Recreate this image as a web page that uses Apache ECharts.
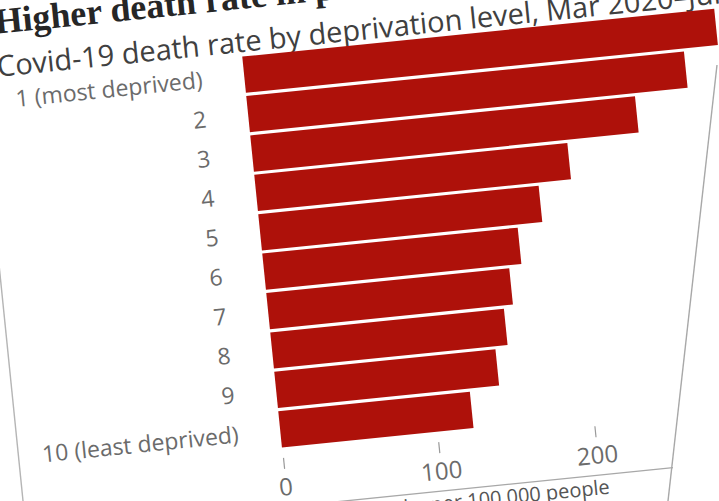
<!DOCTYPE html>
<html>
<head>
<meta charset="utf-8">
<script src="https://cdn.jsdelivr.net/npm/echarts@6/dist/echarts.min.js"></script>
<style>
  html, body { margin: 0; padding: 0; width: 719px; height: 501px; overflow: hidden; background: #ffffff; }
  #stage { position: absolute; left: 9px; top: -52px; width: 800px; height: 620px;
           transform-origin: 273px 500px; transform: rotate(-5.8deg); }
  #chart { width: 800px; height: 620px; }
  #edge { position: absolute; left: 0; top: 0; width: 719px; height: 501px; pointer-events: none; }
</style>
</head>
<body>
<div id="stage"><div id="chart"></div></div>
<svg id="edge" width="719" height="501"><line x1="717" y1="65" x2="668" y2="501" stroke="#a8a8a8" stroke-width="1.4"/></svg>
<script>
const titleText = 'Higher death rate in poorer areas';
const subtitleText = 'Covid-19 death rate by deprivation level, Mar 2020–Jul 2020';
const categories = ['1 (most deprived)', '2', '3', '4', '5', '6', '7', '8', '9', '10 (least deprived)'];
const deathRates = [303, 281, 247, 201, 180, 164, 156, 150, 142, 123];
const tickValues = [0, 100, 200];
const axisNote = 'Deaths per 100,000 people';

const chart = echarts.init(document.getElementById('chart'), null, { renderer: 'svg' });
const labelFont = '"Open Sans", "Noto Sans", sans-serif';
chart.setOption({
  animation: false,
  grid: { left: 273, top: 105, width: 501, height: 396, containLabel: false },
  xAxis: {
    type: 'value', min: 0, max: 320, interval: 100, offset: 9,
    axisLine: { show: false },
    splitLine: { show: false },
    axisTick: { show: true, length: 11, customValues: tickValues, lineStyle: { color: '#9a9a9a', width: 1.2 } },
    axisLabel: { customValues: tickValues, margin: 16, fontSize: 24, color: '#6b6b6b', fontFamily: labelFont }
  },
  yAxis: {
    type: 'category', data: categories, inverse: true,
    axisLine: { show: false }, axisTick: { show: false }, splitLine: { show: false },
    axisLabel: { margin: 42, fontSize: 23, color: '#6b6b6b', fontFamily: labelFont, padding: [5, 0, 0, 0] }
  },
  series: [{
    type: 'bar', data: deathRates, barCategoryGap: '8%', silent: true,
    itemStyle: { color: '#ae110a' }
  }],
  graphic: [
    { type: 'line', shape: { x1: 10, y1: 0, x2: 10, y2: 620 }, style: { stroke: '#b5b5b5', lineWidth: 1.4 } },
    { type: 'line', shape: { x1: 10, y1: 559, x2: 660, y2: 559 }, style: { stroke: '#a8a8a8', lineWidth: 1.4 } },
    { type: 'text', left: 30, top: 29, style: { text: titleText, font: 'bold 36px "Liberation Serif", serif', fill: '#262626' } },
    { type: 'text', left: 28, top: 76, style: { text: subtitleText, font: '29px "Open Sans", sans-serif', fill: '#404040' } },
    { type: 'text', right: 800 - 595, top: 561, style: { text: axisNote, font: '20px "Open Sans", sans-serif', fill: '#555555' } }
  ]
});
</script>
</body>
</html>
